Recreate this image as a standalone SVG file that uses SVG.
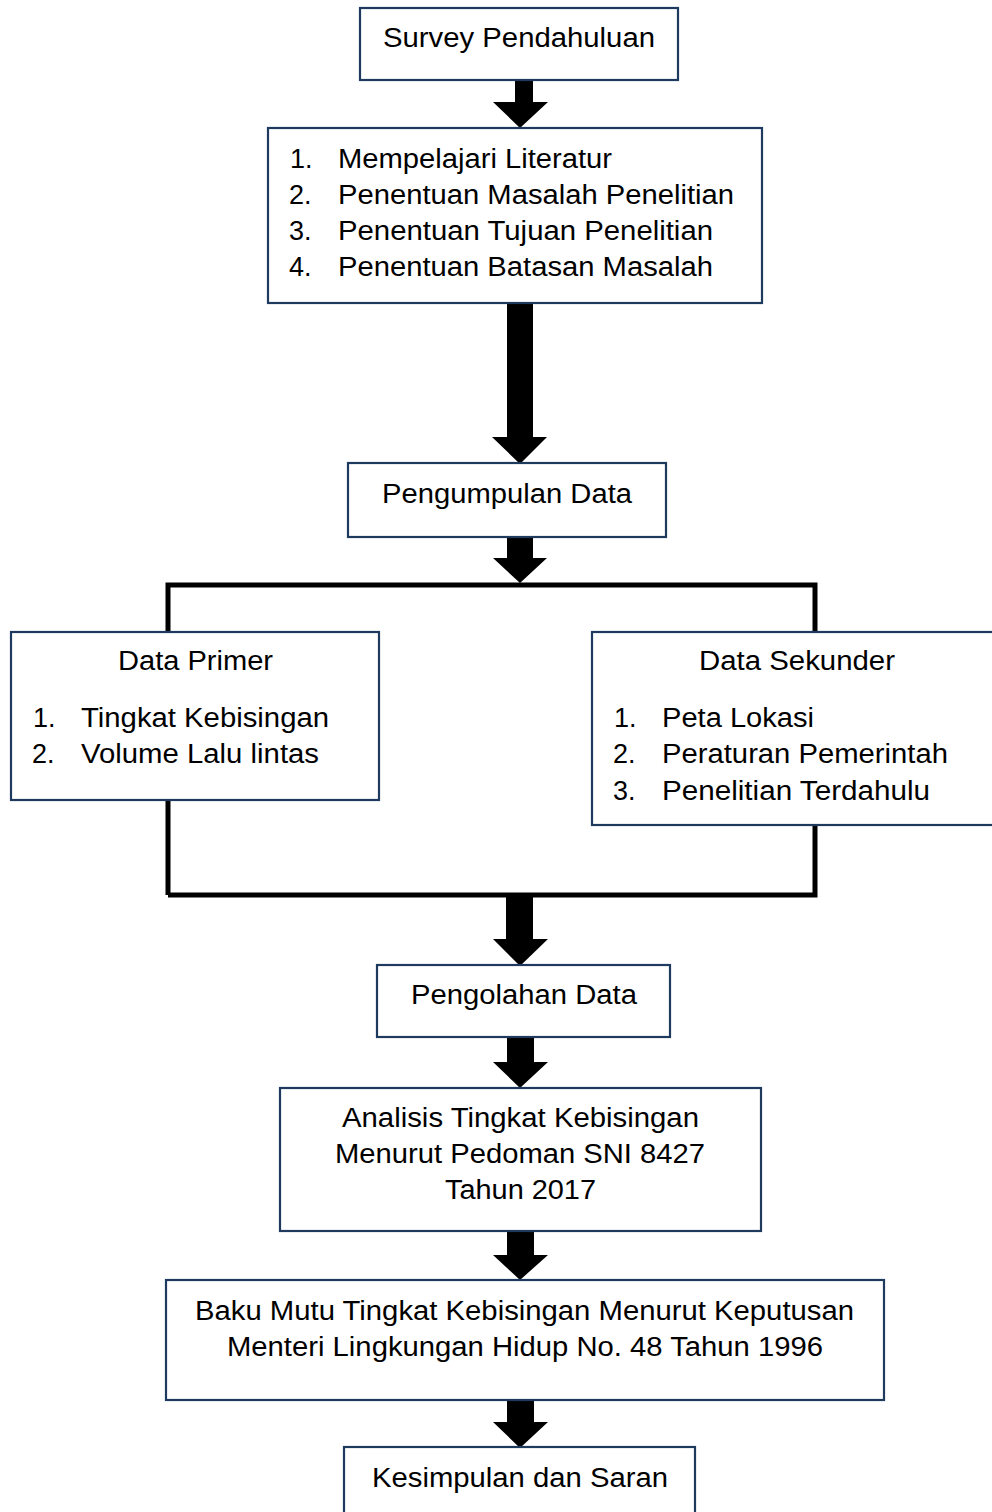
<svg xmlns="http://www.w3.org/2000/svg" width="992" height="1512" viewBox="0 0 992 1512">
<style>
.box{fill:#fff;stroke:#1f3a5f;stroke-width:2.2}
.t{font-family:"Liberation Sans",Arial,sans-serif;font-size:27px;fill:#000}
.arr{fill:#000}
.br{fill:none;stroke:#000;stroke-width:5}
</style>
<rect width="992" height="1512" fill="#fff"/>
<g id="connectors">
<path class="br" d="M168,895 V585 H815 V895 H168"/>
<polygon class="arr" points="515,80 533,80 533,102 548,102 520,128 493,102 515,102"/>
<polygon class="arr" points="507,303 533,303 533,437 547,437 520,464 492,437 507,437"/>
<polygon class="arr" points="507,537 533,537 533,558 547,558 520,583 493,558 507,558"/>
<polygon class="arr" points="506,895 533,895 533,939 548,939 520,966 493,939 506,939"/>
<polygon class="arr" points="507,1037 534,1037 534,1062 548,1062 520,1088 493,1062 507,1062"/>
<polygon class="arr" points="507,1231 534,1231 534,1255 548,1255 520,1280 493,1255 507,1255"/>
<polygon class="arr" points="507,1400 534,1400 534,1422 548,1422 520,1448 493,1422 507,1422"/>
</g>
<g id="survey">
<rect class="box" x="360" y="8" width="318" height="72"/>
<text class="t" x="383" y="47" textLength="272" lengthAdjust="spacingAndGlyphs">Survey Pendahuluan</text>
</g>
<g id="tahap-awal">
<rect class="box" x="268" y="128" width="494" height="175"/>
<text class="t" x="290" y="168">1.</text>
<text class="t" x="338" y="168" textLength="274" lengthAdjust="spacingAndGlyphs">Mempelajari Literatur</text>
<text class="t" x="289" y="204">2.</text>
<text class="t" x="338" y="204" textLength="396" lengthAdjust="spacingAndGlyphs">Penentuan Masalah Penelitian</text>
<text class="t" x="289" y="240">3.</text>
<text class="t" x="338" y="240" textLength="375" lengthAdjust="spacingAndGlyphs">Penentuan Tujuan Penelitian</text>
<text class="t" x="289" y="276">4.</text>
<text class="t" x="338" y="276" textLength="375" lengthAdjust="spacingAndGlyphs">Penentuan Batasan Masalah</text>
</g>
<g id="pengumpulan">
<rect class="box" x="348" y="463" width="318" height="74"/>
<text class="t" x="382" y="503" textLength="250" lengthAdjust="spacingAndGlyphs">Pengumpulan Data</text>
</g>
<g id="data-primer">
<rect class="box" x="11" y="632" width="368" height="168"/>
<text class="t" x="118" y="670" textLength="155" lengthAdjust="spacingAndGlyphs">Data Primer</text>
<text class="t" x="33" y="727">1.</text>
<text class="t" x="81" y="727" textLength="248" lengthAdjust="spacingAndGlyphs">Tingkat Kebisingan</text>
<text class="t" x="32" y="763">2.</text>
<text class="t" x="81" y="763" textLength="238" lengthAdjust="spacingAndGlyphs">Volume Lalu lintas</text>
</g>
<g id="data-sekunder">
<rect class="box" x="592" y="632" width="420" height="193"/>
<text class="t" x="699" y="670" textLength="196" lengthAdjust="spacingAndGlyphs">Data Sekunder</text>
<text class="t" x="614" y="727">1.</text>
<text class="t" x="662" y="727" textLength="152" lengthAdjust="spacingAndGlyphs">Peta Lokasi</text>
<text class="t" x="613" y="763">2.</text>
<text class="t" x="662" y="763" textLength="286" lengthAdjust="spacingAndGlyphs">Peraturan Pemerintah</text>
<text class="t" x="613" y="800">3.</text>
<text class="t" x="662" y="800" textLength="268" lengthAdjust="spacingAndGlyphs">Penelitian Terdahulu</text>
</g>
<g id="pengolahan">
<rect class="box" x="377" y="965" width="293" height="72"/>
<text class="t" x="411" y="1004" textLength="226" lengthAdjust="spacingAndGlyphs">Pengolahan Data</text>
</g>
<g id="analisis">
<rect class="box" x="280" y="1088" width="481" height="143"/>
<text class="t" x="342" y="1127" textLength="357" lengthAdjust="spacingAndGlyphs">Analisis Tingkat Kebisingan</text>
<text class="t" x="335" y="1163" textLength="370" lengthAdjust="spacingAndGlyphs">Menurut Pedoman SNI 8427</text>
<text class="t" x="445" y="1199" textLength="151" lengthAdjust="spacingAndGlyphs">Tahun 2017</text>
</g>
<g id="baku-mutu">
<rect class="box" x="166" y="1280" width="718" height="120"/>
<text class="t" x="195" y="1320" textLength="659" lengthAdjust="spacingAndGlyphs">Baku Mutu Tingkat Kebisingan Menurut Keputusan</text>
<text class="t" x="227" y="1356" textLength="596" lengthAdjust="spacingAndGlyphs">Menteri Lingkungan Hidup No. 48 Tahun 1996</text>
</g>
<g id="kesimpulan">
<rect class="box" x="344" y="1447" width="351" height="80"/>
<text class="t" x="372" y="1487" textLength="296" lengthAdjust="spacingAndGlyphs">Kesimpulan dan Saran</text>
</g>
</svg>
